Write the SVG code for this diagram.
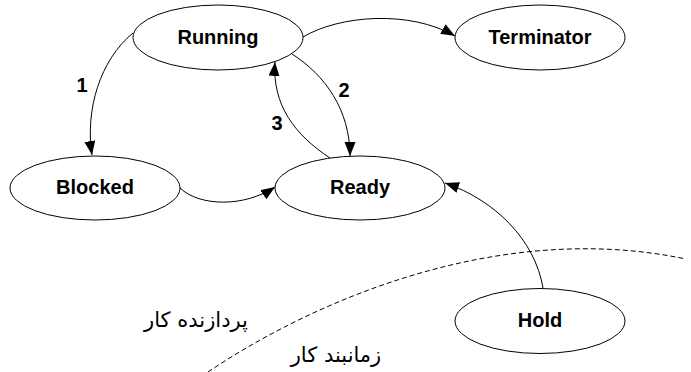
<svg xmlns="http://www.w3.org/2000/svg" width="691" height="372" viewBox="0 0 691 372">
<style>
.node ellipse{fill:#fff;stroke:#000;stroke-width:1}
.node text{font-family:"Liberation Sans",Arial,sans-serif;font-weight:bold;font-size:20px;text-anchor:middle;fill:#000}
.lbl{font-family:"Liberation Sans",Arial,sans-serif;font-weight:bold;font-size:20px;text-anchor:middle;fill:#000}
.edge{fill:none;stroke:#000;stroke-width:1;marker-end:url(#arr)}
.fa{font-family:"DejaVu Sans","Noto Sans",sans-serif;font-size:21px;text-anchor:middle;fill:#000}
</style>
<defs>
<marker id="arr" markerWidth="15" markerHeight="12" refX="14" refY="5.5" orient="auto" markerUnits="userSpaceOnUse">
<path d="M0,0 L14,5.5 L0,11 z" fill="#000"/>
</marker>
</defs>
<path d="M208,372 C315,300 500,220 686,259" fill="none" stroke="#000" stroke-width="1" stroke-dasharray="5,3"/>
<text class="fa" x="196" y="327">پردازنده کار</text>
<text class="fa" x="336" y="362">زمانبند کار</text>
<g id="connectors">
<path class="edge" d="M303,37 C340,15 410,10 455,36"/>
<path class="edge" d="M133,33 C100,60 85,110 92,155"/>
<path class="edge" d="M292,54 C325,75 350,110 350,156"/>
<path class="edge" d="M330,158 C295,135 272,105 275,62"/>
<path class="edge" d="M180,188 C200,207 245,207 275,187"/>
<path class="edge" d="M543,288 C535,240 495,200 445,183"/>
<text class="lbl" x="82" y="92">1</text>
<text class="lbl" x="344" y="97">2</text>
<text class="lbl" x="277" y="130">3</text>
</g>
<g id="running" class="node"><ellipse cx="218" cy="37.5" rx="85" ry="32.5"/><text x="218" y="43.5">Running</text></g>
<g id="terminator" class="node"><ellipse cx="540" cy="37.5" rx="85" ry="32.5"/><text x="540" y="43.5">Terminator</text></g>
<g id="blocked" class="node"><ellipse cx="95" cy="188" rx="85" ry="32"/><text x="95" y="194">Blocked</text></g>
<g id="ready" class="node"><ellipse cx="360" cy="188" rx="85" ry="32"/><text x="360" y="194">Ready</text></g>
<g id="hold" class="node"><ellipse cx="540" cy="321" rx="85" ry="32.5"/><text x="540" y="327">Hold</text></g>
</svg>
